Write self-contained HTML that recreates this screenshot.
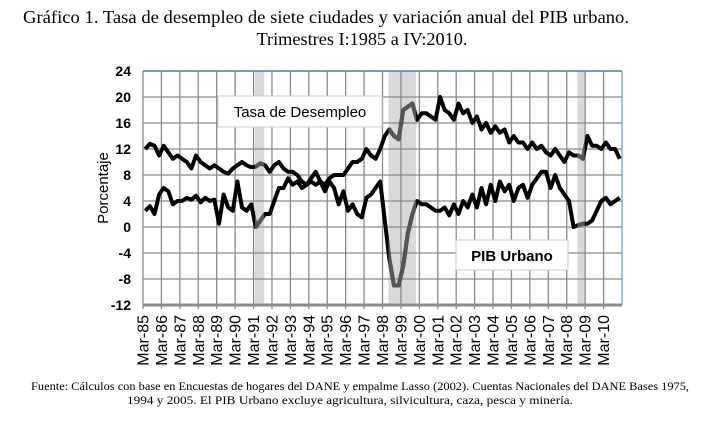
<!DOCTYPE html>
<html><head><meta charset="utf-8"><style>
body{margin:0;background:#fff;width:707px;height:424px;overflow:hidden}
svg{display:block}
</style></head><body>
<svg id="s" width="707" height="424" xmlns="http://www.w3.org/2000/svg">
<text x="326" y="23" text-anchor="middle" font-family="Liberation Serif,serif" font-size="17.5" textLength="606" lengthAdjust="spacingAndGlyphs">Gráfico 1. Tasa de desempleo de siete ciudades y variación anual del PIB urbano.</text>
<text x="362" y="45" text-anchor="middle" font-family="Liberation Serif,serif" font-size="17.5" textLength="211" lengthAdjust="spacingAndGlyphs">Trimestres I:1985 a IV:2010.</text>
<text x="360" y="390" text-anchor="middle" font-family="Liberation Serif,serif" font-size="11.5" textLength="658" lengthAdjust="spacingAndGlyphs">Fuente: Cálculos con base en Encuestas de hogares del DANE y empalme Lasso (2002). Cuentas Nacionales del DANE Bases 1975,</text>
<text x="350" y="404" text-anchor="middle" font-family="Liberation Serif,serif" font-size="11.5" textLength="446" lengthAdjust="spacingAndGlyphs">1994 y 2005. El PIB Urbano excluye agricultura, silvicultura, caza,  pesca y minería.</text>
<g id="g"></g>
</svg>
<script>
const g=document.getElementById('g');let h='';
const L=143,R=622,T=71,B=305;
const X=q=>L+q*(R-L)/104, Y=v=>T+(24-v)*(B-T)/36;
[[24.3,26.3],[53.3,59.3],[94.3,95.9]].forEach(([a,b])=>h+=`<rect x="${X(a)}" y="${T}" width="${X(b)-X(a)}" height="${B-T}" fill="#d9d9d9"/>`);
for(let v=-12;v<=24;v+=4){h+=`<line x1="${L}" x2="${R}" y1="${Y(v)}" y2="${Y(v)}" stroke="#8a8a8a" stroke-width="${v==-12?3:1.3}"/>`;
h+=`<text x="131" y="${Y(v)+5}" text-anchor="end" font-family="Liberation Sans,sans-serif" font-size="14" font-weight="bold">${v}</text>`;}
const yrs=['85','86','87','88','89','90','91','92','93','94','95','96','97','98','99','00','01','02','03','04','05','06','07','08','09','10'];
yrs.forEach((y,i)=>{const x=X(i*4);h+=`<line x1="${x}" x2="${x}" y1="${T}" y2="${B+4}" stroke="#8a8a8a" stroke-width="1.3"/>`;
h+=`<text transform="translate(${x+5.5},${B+10}) rotate(-90)" text-anchor="end" font-family="Liberation Sans,sans-serif" font-size="16">Mar-${y}</text>`;});
h+=`<line x1="${R}" x2="${R}" y1="${T}" y2="${B}" stroke="#5b7fbf" stroke-width="1"/><line x1="${L}" x2="${R}" y1="${T}" y2="${T}" stroke="#5b7fbf" stroke-width="1.5"/>`;
h+=`<text transform="translate(108,188) rotate(-90)" text-anchor="middle" font-family="Liberation Sans,sans-serif" font-size="15">Porcentaje</text>`;
const ur=[12,12.8,12.5,11,12.5,11.5,10.5,11,10.5,10,9,11,10,9.5,9,9.5,9,8.5,8.2,9,9.5,10,9.5,9.2,9.3,9.8,9.5,8.5,9.5,10,9,8.5,8.5,8,7,6.5,7.5,8.5,7,6.5,7.5,8,8,8,9,10,10,10.5,12,11,10.5,12,14,15,14,13.5,18,18.5,19,16.5,17.5,17.5,17,16.5,20,18,17.5,16.5,19,17.5,18,16,17,15,16,14.5,15.5,14.5,15,13,14,13,13,12,13,12,12.5,11.5,11,12,11,10,11.5,11,11,10.5,14,12.5,12.5,12,13,12,12,10.5];
const pib=[2.5,3.2,2,5,6,5.5,3.5,4,4,4.5,4.2,4.8,3.8,4.5,4,4.2,0.5,5,3,2.5,7,3,2.5,3.5,0,1,2,2,4,6,6,7.5,6.5,7,6,6.5,7,6.5,7,5.5,7,6,3.5,5.5,2.5,3.5,2,1.5,4.5,5,6,7,1,-5,-9,-9,-6,-1,2,4,3.5,3.5,3,2.5,2.5,3,1.8,3.5,2,4,3,5,3,6,3.5,6.5,4,7,5.5,6.5,4,6,6.5,4.5,6.5,7.5,8.5,8.5,6,8,6,5,4,0,0.3,0.5,0.5,1,2.5,4,4.5,3.5,4,4.5];
const pts=a=>a.map((v,i)=>`${X(i+0.5).toFixed(1)},${Y(v).toFixed(1)}`).join(' ');
h+=`<defs><clipPath id="c"><rect x="${X(24.3)}" y="0" width="${X(26.3)-X(24.3)}" height="424"/><rect x="${X(53.3)}" y="0" width="${X(59.3)-X(53.3)}" height="424"/><rect x="${X(94.3)}" y="0" width="${X(95.9)-X(94.3)}" height="424"/></clipPath></defs>`;
[ur,pib].forEach(a=>{h+=`<polyline points="${pts(a)}" fill="none" stroke="#000" stroke-width="4" stroke-linejoin="round"/>`;
h+=`<polyline points="${pts(a)}" fill="none" stroke="#555" stroke-width="4" stroke-linejoin="round" clip-path="url(#c)"/>`;});
h+=`<rect x="218" y="96" width="164" height="31" fill="#fff" stroke="#ccc"/><text x="300" y="117" text-anchor="middle" font-family="Liberation Sans,sans-serif" font-size="15">Tasa de Desempleo</text>`;
h+=`<rect x="456" y="240" width="112" height="30" fill="#fff" stroke="#ccc"/><text x="512" y="261" text-anchor="middle" font-family="Liberation Sans,sans-serif" font-size="15" font-weight="bold">PIB Urbano</text>`;
g.innerHTML=h;
</script>
</body></html>
